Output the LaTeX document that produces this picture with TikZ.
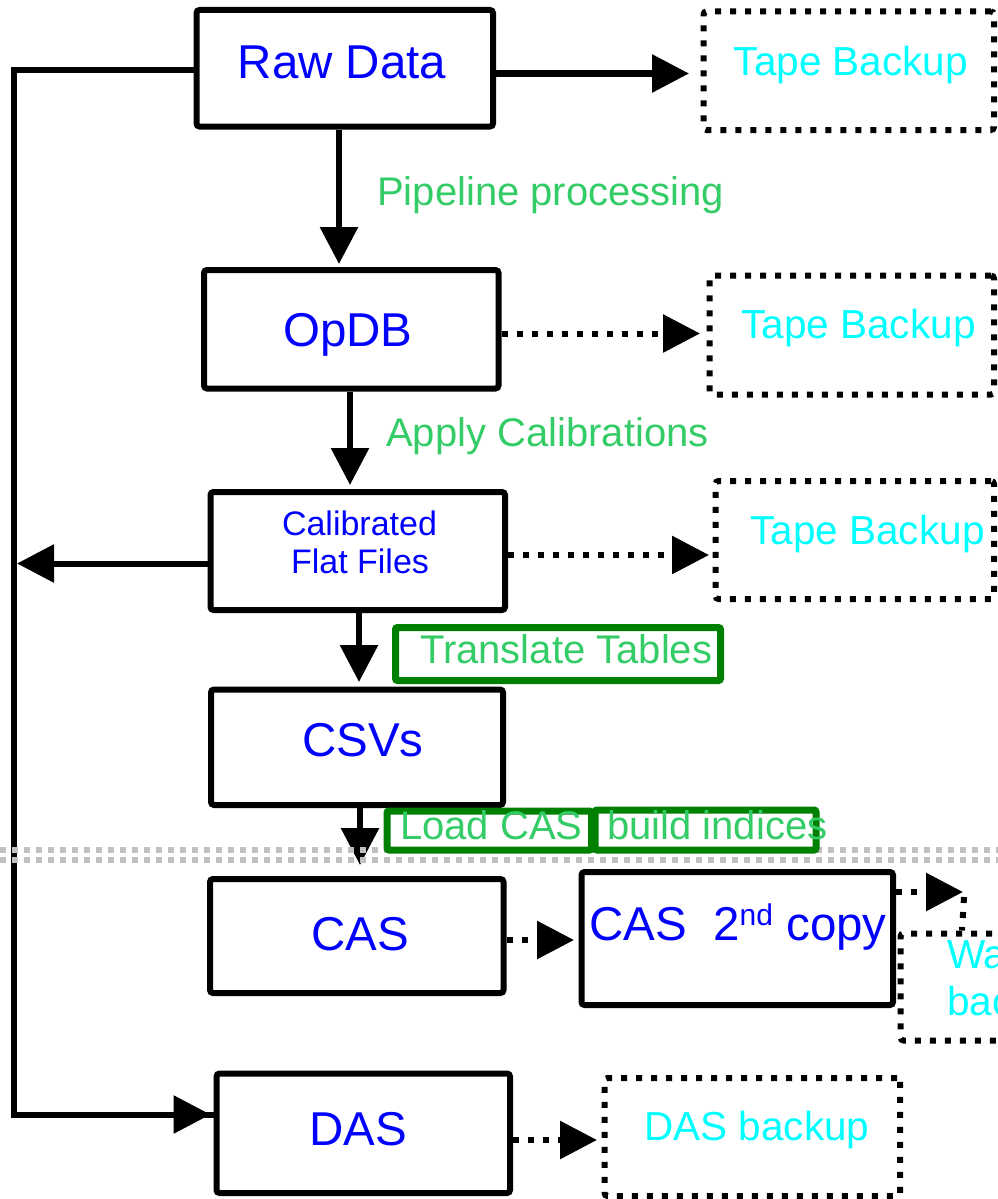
\documentclass[tikz,border=0pt]{standalone}
\usepackage{fontspec}
\setmainfont{Liberation Sans}
\usetikzlibrary{arrows.meta}
\definecolor{tblue}{HTML}{0000FF}
\definecolor{tcyan}{HTML}{00FFFF}
\definecolor{tgreen}{HTML}{33CC66}
\definecolor{bgreen}{HTML}{008000}
\definecolor{sepgray}{HTML}{C0C0C0}
\begin{document}
\begin{tikzpicture}[x=1pt,y=-1pt,
  box/.style={draw, line width=6pt, rounded corners=3pt, fill=white, inner sep=0pt},
  dbox/.style={draw, line width=6pt, dash pattern=on 6pt off 9pt, rounded corners=3pt, inner sep=0pt},
  gbox/.style={draw=bgreen, line width=7pt, rounded corners=2pt, fill=white, inner sep=0pt},
  title/.style={text=tblue, font=\fontsize{47.5}{56}\selectfont, inner sep=0pt, anchor=base},
  small/.style={text=tblue, font=\fontsize{34}{40}\selectfont, inner sep=0pt, anchor=base},
  backup/.style={text=tcyan, font=\fontsize{40.5}{48}\selectfont, inner sep=0pt, anchor=base},
  glabel/.style={text=tgreen, font=\fontsize{40}{48}\selectfont, inner sep=0pt, anchor=base west},
  sarrow/.style={line width=6pt, -{Triangle[length=37pt,width=37pt]}},
  darrow/.style={line width=6pt, dash pattern=on 6pt off 9pt, -{Triangle[length=37pt,width=37pt]}},
  dline/.style={line width=6pt, dash pattern=on 6pt off 9pt},
  sline/.style={line width=6pt},
]
\useasboundingbox (0,0) rectangle (998,1199);
\clip (0,0) rectangle (998,1199);

% main boxes
\node[box, minimum width=296.5pt, minimum height=116.5pt] (raw) at (344.75,68.25) {};
\node[box, minimum width=294.5pt, minimum height=118.5pt] (opdb) at (351.25,329.25) {};
\node[box, minimum width=294.5pt, minimum height=118pt] (cal) at (357.75,551) {};
\node[box, minimum width=292pt, minimum height=115.5pt] (csv) at (357,747.25) {};
\node[box, minimum width=293.5pt, minimum height=114pt] (cas) at (356.75,936) {};
\node[box, minimum width=311.5pt, minimum height=133pt] (cas2) at (737.25,938.5) {};
\node[box, minimum width=293.5pt, minimum height=119.5pt] (das) at (363.25,1133.25) {};

% dotted backup boxes
\node[dbox, minimum width=290.5pt, minimum height=118.5pt] (tape1) at (848.75,70.75) {};
\node[dbox, minimum width=284.5pt, minimum height=119pt] (tape2) at (851.75,335) {};
\node[dbox, minimum width=278.5pt, minimum height=118pt] (tape3) at (854.75,540) {};
\node[dbox, minimum width=295.5pt, minimum height=118pt] (dasbk) at (752.25,1137) {};
\node[dbox, minimum width=109.5pt, minimum height=107pt] (warm) at (955.25,987) {};

% left feedback line
\coordinate (lt) at (14,70);
\coordinate (lm) at (14,563.5);
\coordinate (lb) at (14,1114.5);
\draw[sline, line join=miter] (raw.west |- lt) -- (lt) -- (lb) -- (das.west |- lb);
\draw[sarrow, shorten >=3pt] (lb) -- (das.west |- lb);
\draw[sarrow, shorten >=3pt] (cal.west |- lm) -- (lm);

% solid arrows
\draw[sarrow, shorten >=11.5pt] (raw.east |- 0,73.5) -- (tape1.west |- 0,73.5);
\draw[sarrow, shorten >=3pt] (raw.south -| 339,0) -- (opdb.north -| 339,0);
\draw[sarrow, shorten >=4pt] (opdb.south -| 350,0) -- (cal.north -| 350,0);
\draw[sarrow, shorten >=4.5pt] (cal.south -| 359,0) -- (csv.north -| 359,0);
\draw[sarrow, shorten >=11pt] (csv.south -| 360,0) -- (cas.north -| 360,0);

% dotted arrows
\draw[darrow, shorten >=6.5pt] (opdb.east |- 0,333.5) -- (tape2.west |- 0,333.5);
\draw[darrow, shorten >=3.5pt] (cal.east |- 0,555) -- (tape3.west |- 0,555);
\draw[darrow, shorten >=4.5pt] (cas.east |- 0,940) -- (cas2.west |- 0,940);
\draw[darrow, shorten >=4.5pt] (das.east |- 0,1140) -- (dasbk.west |- 0,1140);
\coordinate (bend) at (963,892);
\coordinate (bend2) at (964,897);
\draw[darrow] (cas2.east |- bend) -- (bend);
\draw[dline] (bend2) -- (warm.north -| 962,0);

% gray separator (double dotted)
\draw[sepgray, line width=6pt, dash pattern=on 6pt off 6pt] (0,850) -- (998,850);
\draw[sepgray, line width=6pt, dash pattern=on 6pt off 6pt] (0,860) -- (998,860);

% green label boxes
\node[gbox, minimum width=325pt, minimum height=53pt] (tt) at (558,654) {};
\node[gbox, minimum width=204.5pt, minimum height=39pt] (lc) at (489.25,830.5) {};
\node[gbox, minimum width=221pt, minimum height=40pt] (bi) at (705.5,830) {};

% texts
\node[title] (rawt) at (342,78) {Raw Data};
\node[title] (opdbt) at (348,346.5) {OpDB};
\node[small] (calt1) at (359.5,535) {Calibrated};
\node[small] (calt2) at (360,573) {Flat Files};
\node[title] (csvt) at (363,756.5) {CSVs};
\node[title] (cast) at (360,950) {CAS};
\node[title, anchor=base west] (cas2t) at (589,940) {CAS\ \ 2\raisebox{15pt}{\fontsize{30}{30}\selectfont nd} copy};
\node[title] (dast) at (358,1145) {DAS};

\node[backup] (tape1t) at (851,76) {Tape Backup};
\node[backup] (tape2t) at (858.5,338) {Tape Backup};
\node[backup] (tape3t) at (867.5,544) {Tape Backup};
\node[backup] (dasbkt) at (757,1140) {DAS backup};
\node[backup, anchor=base west] (warmt1) at (947,968) {Wa};
\node[backup, anchor=base west] (warmt2) at (947,1015) {bac};

\node[glabel] (pipe) at (377,205) {Pipeline processing};
\node[glabel] (applyc) at (386,446) {Apply Calibrations};
\node[glabel] (ttt) at (420,663) {Translate Tables};
\node[glabel] (lct) at (400,839) {Load CAS};
\node[glabel] (bit) at (607,839) {build indices};
\end{tikzpicture}
\end{document}
